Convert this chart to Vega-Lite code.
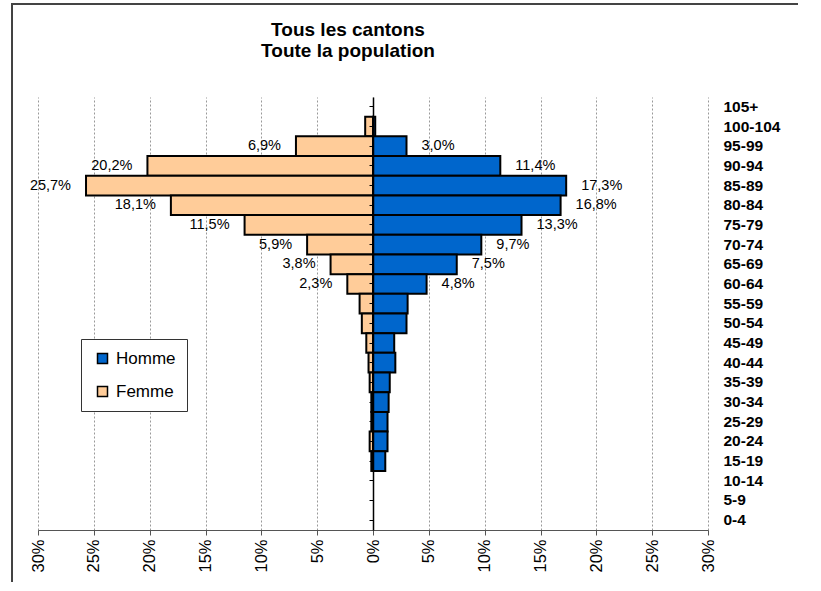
{
  "$schema": "https://vega.github.io/schema/vega-lite/v6.json",
  "width": 670,
  "height": 433,
  "autosize": {"type": "none"},
  "padding": {"left": 38, "top": 97, "right": 113, "bottom": 61},
  "background": "white",
  "config": {
    "locale": {"number": {"decimal": ",", "thousands": " ", "grouping": [3], "currency": ["", " €"]}},
    "font": "Liberation Sans",
    "view": {"stroke": null}
  },
  "title": {
    "text": ["Tous les cantons", "Toute la population"],
    "fontSize": 19,
    "fontWeight": "bold",
    "font": "Liberation Sans",
    "color": "black",
    "anchor": "middle",
    "dx": -25,
    "offset": -58,
    "lineHeight": 21
  },
  "data": {
    "values": [
      {"age": "100-104", "sexe": "Homme", "part": 0.002},
      {"age": "95-99", "sexe": "Homme", "part": 0.030},
      {"age": "90-94", "sexe": "Homme", "part": 0.114},
      {"age": "85-89", "sexe": "Homme", "part": 0.173},
      {"age": "80-84", "sexe": "Homme", "part": 0.168},
      {"age": "75-79", "sexe": "Homme", "part": 0.133},
      {"age": "70-74", "sexe": "Homme", "part": 0.097},
      {"age": "65-69", "sexe": "Homme", "part": 0.075},
      {"age": "60-64", "sexe": "Homme", "part": 0.048},
      {"age": "55-59", "sexe": "Homme", "part": 0.031},
      {"age": "50-54", "sexe": "Homme", "part": 0.030},
      {"age": "45-49", "sexe": "Homme", "part": 0.019},
      {"age": "40-44", "sexe": "Homme", "part": 0.020},
      {"age": "35-39", "sexe": "Homme", "part": 0.015},
      {"age": "30-34", "sexe": "Homme", "part": 0.014},
      {"age": "25-29", "sexe": "Homme", "part": 0.013},
      {"age": "20-24", "sexe": "Homme", "part": 0.013},
      {"age": "15-19", "sexe": "Homme", "part": 0.011},
      {"age": "100-104", "sexe": "Femme", "part": 0.007},
      {"age": "95-99", "sexe": "Femme", "part": 0.069},
      {"age": "90-94", "sexe": "Femme", "part": 0.202},
      {"age": "85-89", "sexe": "Femme", "part": 0.257},
      {"age": "80-84", "sexe": "Femme", "part": 0.181},
      {"age": "75-79", "sexe": "Femme", "part": 0.115},
      {"age": "70-74", "sexe": "Femme", "part": 0.059},
      {"age": "65-69", "sexe": "Femme", "part": 0.038},
      {"age": "60-64", "sexe": "Femme", "part": 0.023},
      {"age": "55-59", "sexe": "Femme", "part": 0.012},
      {"age": "50-54", "sexe": "Femme", "part": 0.010},
      {"age": "45-49", "sexe": "Femme", "part": 0.006},
      {"age": "40-44", "sexe": "Femme", "part": 0.004},
      {"age": "35-39", "sexe": "Femme", "part": 0.003},
      {"age": "30-34", "sexe": "Femme", "part": 0.0015},
      {"age": "25-29", "sexe": "Femme", "part": 0.0015},
      {"age": "20-24", "sexe": "Femme", "part": 0.003},
      {"age": "15-19", "sexe": "Femme", "part": 0.0015}
    ]
  },
  "layer": [
    {
      "mark": {"type": "rule", "stroke": "#444444", "strokeWidth": 1.5, "clip": false},
      "encoding": {
        "x": {"datum": -0.3234, "type": "quantitative", "scale": {"domain": [-0.3, 0.3], "nice": false}, "axis": null},
        "y": {"datum": 1.2148, "type": "quantitative", "scale": {"domain": [0, 1], "nice": false, "zero": false}, "axis": null},
        "y2": {"datum": -0.12}
      }
    },
    {
      "mark": {"type": "rule", "stroke": "#444444", "strokeWidth": 1.5, "clip": false},
      "encoding": {
        "x": {"datum": -0.3241, "type": "quantitative", "scale": {"domain": [-0.3, 0.3], "nice": false}, "axis": null},
        "x2": {"datum": 0.38},
        "y": {"datum": 1.2148, "type": "quantitative", "scale": {"domain": [0, 1], "nice": false, "zero": false}, "axis": null}
      }
    },
    {
      "transform": [{"filter": "datum.sexe === 'Homme'"}],
      "encoding": {
        "y": {
          "field": "age",
          "type": "nominal",
          "scale": {
            "domain": ["105+", "100-104", "95-99", "90-94", "85-89", "80-84", "75-79", "70-74", "65-69", "60-64", "55-59", "50-54", "45-49", "40-44", "35-39", "30-34", "25-29", "20-24", "15-19", "10-14", "5-9", "0-4"],
            "paddingInner": 0,
            "paddingOuter": 0
          },
          "axis": {
            "orient": "right",
            "title": null,
            "domain": false,
            "ticks": false,
            "grid": false,
            "labelPadding": 15,
            "labelFontSize": 15.5,
            "labelFontWeight": "bold",
            "labelColor": "black",
            "labelAlign": "left"
          }
        },
        "x": {
          "field": "part",
          "type": "quantitative",
          "scale": {"domain": [-0.3, 0.3], "nice": false},
          "axis": {
            "title": null,
            "values": [-0.3, -0.25, -0.2, -0.15, -0.1, -0.05, 0, 0.05, 0.1, 0.15, 0.2, 0.25, 0.3],
            "grid": true,
            "gridDash": [2, 2],
            "gridColor": "#999999",
            "gridWidth": 1,
            "domainColor": "#555555",
            "tickColor": "#555555",
            "tickSize": 5,
            "labelAngle": 270,
            "labelAlign": "right",
            "labelBaseline": "middle",
            "labelPadding": 4,
            "labelFontSize": 16.5,
            "labelColor": "black",
            "labelFlush": false,
            "labelOverlap": false,
            "labelExpr": "format(abs(datum.value), '.0%')"
          }
        }
      },
      "layer": [
        {
          "mark": {"type": "bar", "stroke": "black", "strokeWidth": 2},
          "encoding": {
            "color": {
              "field": "sexe",
              "type": "nominal",
              "scale": {"domain": ["Homme", "Femme"], "range": ["#0066CC", "#FFCC99"]},
              "legend": {
                "orient": "none",
                "legendX": 43,
                "legendY": 242,
                "title": null,
                "symbolType": "square",
                "symbolSize": 100,
                "symbolStrokeColor": "black",
                "symbolStrokeWidth": 1.5,
                "labelFontSize": 17,
                "labelColor": "black",
                "strokeColor": "#333333",
                "fillColor": "white",
                "padding": 11,
                "rowPadding": 15,
                "symbolOffset": 2,
                "labelOffset": 5
              }
            }
          }
        },
        {
          "transform": [{"filter": {"field": "age", "oneOf": ["95-99", "90-94", "85-89", "80-84", "75-79", "70-74", "65-69", "60-64"]}}],
          "mark": {"type": "text", "align": "left", "baseline": "middle", "dx": 15, "fontSize": 14.5, "color": "black"},
          "encoding": {"text": {"field": "part", "type": "quantitative", "format": ".1%"}}
        }
      ]
    },
    {
      "transform": [{"filter": "datum.sexe === 'Femme'"}],
      "encoding": {
        "y": {
          "field": "age",
          "type": "nominal",
          "scale": {
            "domain": ["105+", "100-104", "95-99", "90-94", "85-89", "80-84", "75-79", "70-74", "65-69", "60-64", "55-59", "50-54", "45-49", "40-44", "35-39", "30-34", "25-29", "20-24", "15-19", "10-14", "5-9", "0-4"],
            "paddingInner": 0,
            "paddingOuter": 0
          },
          "axis": {
            "orient": "left",
            "offset": -335,
            "title": null,
            "labels": false,
            "grid": false,
            "domain": true,
            "domainColor": "black",
            "domainWidth": 1.5,
            "ticks": true,
            "tickColor": "black",
            "tickSize": 4,
            "tickWidth": 1,
            "zindex": 2
          }
        },
        "x": {
          "field": "part",
          "type": "quantitative",
          "scale": {"domain": [-0.3, 0.3], "nice": false, "reverse": true},
          "axis": null
        }
      },
      "layer": [
        {
          "mark": {"type": "bar", "stroke": "black", "strokeWidth": 2},
          "encoding": {
            "color": {
              "field": "sexe",
              "type": "nominal",
              "scale": {"domain": ["Homme", "Femme"], "range": ["#0066CC", "#FFCC99"]},
              "legend": {
                "orient": "none",
                "legendX": 43,
                "legendY": 242,
                "title": null,
                "symbolType": "square",
                "symbolSize": 100,
                "symbolStrokeColor": "black",
                "symbolStrokeWidth": 1.5,
                "labelFontSize": 17,
                "labelColor": "black",
                "strokeColor": "#333333",
                "fillColor": "white",
                "padding": 11,
                "rowPadding": 15,
                "symbolOffset": 2,
                "labelOffset": 5
              }
            }
          }
        },
        {
          "transform": [{"filter": {"field": "age", "oneOf": ["95-99", "90-94", "85-89", "80-84", "75-79", "70-74", "65-69", "60-64"]}}],
          "mark": {"type": "text", "align": "right", "baseline": "middle", "dx": -15, "fontSize": 14.5, "color": "black"},
          "encoding": {"text": {"field": "part", "type": "quantitative", "format": ".1%"}}
        }
      ]
    }
  ],
  "resolve": {"scale": {"x": "independent", "y": "independent"}, "axis": {"x": "independent", "y": "independent"}}
}
